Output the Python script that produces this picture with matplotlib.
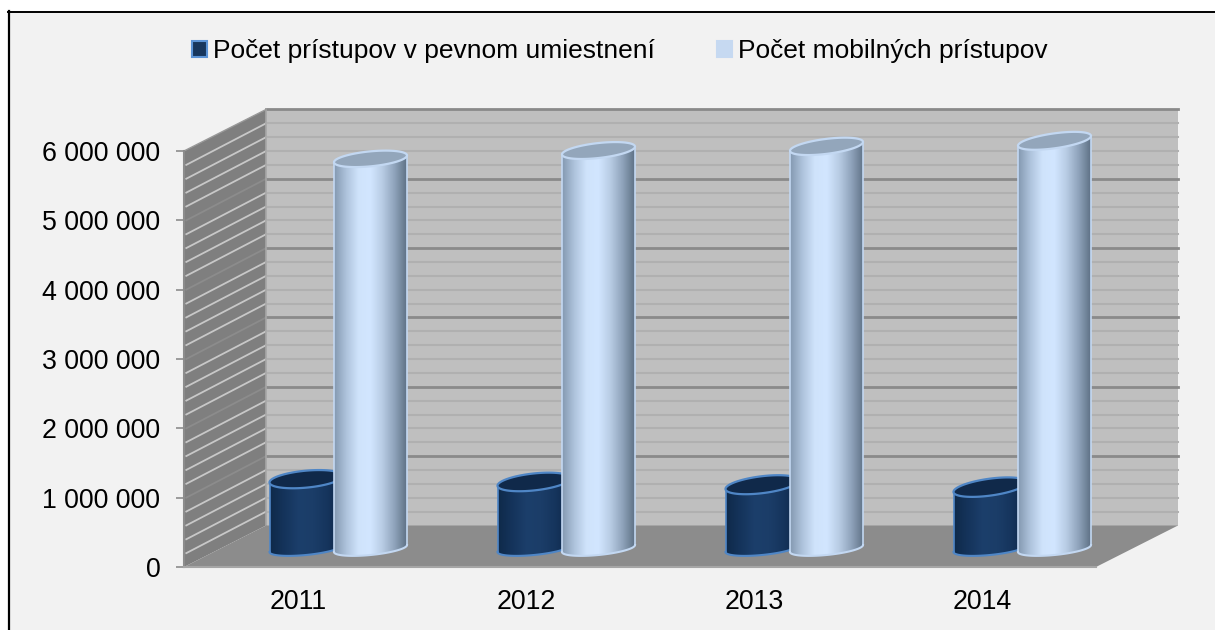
import numpy as np
import matplotlib
matplotlib.use('Agg')
from matplotlib import pyplot as plt
from matplotlib.colors import LinearSegmentedColormap
from matplotlib.lines import Line2D
from matplotlib.patches import Patch, PathPatch, Polygon
from matplotlib.path import Path
from matplotlib.ticker import FuncFormatter

years = ['2011', '2012', '2013', '2014']
fixed_access = [1000000, 960000, 920000, 885000]
mobile_access = [5620000, 5740000, 5800000, 5880000]
series_names = ['Počet prístupov v pevnom umiestnení', 'Počet mobilných prístupov']
y_ticks = [0, 1000000, 2000000, 3000000, 4000000, 5000000, 6000000]

W, H = 1215, 630
L, R, T, B = 184, 1096, 151, 567  # front plane in pixels
PX_X = 4 / (R - L)
PX_Y = 6000000 / (B - T)
DEPTH_X = 82 * PX_X
DEPTH_Y = 41.5 * PX_Y

plt.rcParams['font.family'] = ['Liberation Sans', 'DejaVu Sans']

fig = plt.figure(figsize=(W / 100, H / 100), dpi=100)
fig.patch.set_facecolor('white')
# panel runs off the right and bottom of the picture, only left and top lines show
fig.add_artist(plt.Rectangle((9 / W, 0), 1, 1 - 12 / H, transform=fig.transFigure, fc='#f2f2f2', ec='none', zorder=-1))
fig.add_artist(Line2D([9 / W, 9 / W], [0, 1 - 11 / H], transform=fig.transFigure, color='black', lw=1.6, zorder=-0.5))
fig.add_artist(Line2D([8 / W, 1], [1 - 12 / H, 1 - 12 / H], transform=fig.transFigure, color='black', lw=1.4, zorder=-0.5))

ax = fig.add_axes([L / W, 1 - B / H, (R - L) / W, (B - T) / H])
ax.patch.set_alpha(0)
ax.set_xlim(0, 4)
ax.set_ylim(0, 6000000)
for s in ['top', 'right', 'bottom']:
    ax.spines[s].set_visible(False)
ax.spines['left'].set_color('#8c8c8c')
ax.spines['left'].set_linewidth(1.5)
ax.set_yticks(y_ticks)
ax.yaxis.set_major_formatter(FuncFormatter(lambda v, p: '{:,.0f}'.format(v).replace(',', ' ')))
ax.set_xticks(np.arange(4) + 0.5)
ax.set_xticklabels(years)
ax.tick_params(axis='y', labelsize=19.3, length=6, width=1.2, color='#8c8c8c', pad=11, labelcolor='black')
ax.tick_params(axis='x', labelsize=19.3, length=0, pad=16, labelcolor='black')


def poly(points, **kw):
    ax.add_patch(Polygon(points, closed=True, clip_on=False, **kw))


# walls and floor
poly([(DEPTH_X, DEPTH_Y), (4 + DEPTH_X, DEPTH_Y), (4 + DEPTH_X, 6000000 + DEPTH_Y), (DEPTH_X, 6000000 + DEPTH_Y)],
     fc='#bfbfbf', ec='none', zorder=1)
poly([(0, 0), (DEPTH_X, DEPTH_Y), (DEPTH_X, 6000000 + DEPTH_Y), (0, 6000000)], fc='#7f7f7f', ec='none', zorder=1)
poly([(0, 0), (4, 0), (4 + DEPTH_X, DEPTH_Y), (DEPTH_X, DEPTH_Y)], fc='#8c8c8c', ec='none', zorder=2)
ax.plot([0, 4], [0, 0], color='#a6a6a6', lw=1.5, clip_on=False, zorder=3)

# gridlines on both walls
for v in range(200000, 6000001, 200000):
    major = v % 1000000 == 0
    ax.plot([DEPTH_X, 4 + DEPTH_X], [v + DEPTH_Y, v + DEPTH_Y], clip_on=False, zorder=1.5,
            color='#8a8a8a' if major else '#b0b0b0', lw=2 if major else 1.5)
    if v < 6000000:
        ax.plot([0.01, DEPTH_X], [v, v + DEPTH_Y], clip_on=False, zorder=1.5,
                color='#8c8c8c' if major else '#c8c8c8', lw=1.3)
ax.plot([DEPTH_X, DEPTH_X], [0 + DEPTH_Y, 6000000 + DEPTH_Y], color='#a6a6a6', lw=1.2, clip_on=False, zorder=1.6)
ax.plot([0, DEPTH_X], [6000000, 6000000 + DEPTH_Y], color='#999999', lw=1, clip_on=False, zorder=1.6)

fixed_cmap = LinearSegmentedColormap.from_list('fixed', ['#0f2a4a', '#15345c', '#1c3f6b', '#1b3d68', '#15345c', '#0e2644'])
mobile_cmap = LinearSegmentedColormap.from_list('mobile', ['#8499b1', '#aec3dc', '#cfe3fb', '#d2e6ff', '#b8cce4', '#8fa3bb', '#5f7286'])
fade = np.linspace(0, 1, 200).reshape(1, -1)


def cylinder(cx, value, half_w, cap_h, cmap, cap_color, edge, z):
    base = 18.5 * PX_Y
    rise_top = 3 + cx * 0.5
    rise_bot = 3.5
    u = np.cos(np.linspace(np.pi, 0, 60))
    x = cx + half_w * PX_X * u
    top_y = base + value + rise_top * PX_Y * u
    bot_y = base + rise_bot * PX_Y * u - 6.5 * PX_Y * np.sqrt(1 - u ** 2)
    outline = np.r_[np.c_[x, bot_y], np.c_[x[::-1], top_y[::-1]]]
    im = ax.imshow(fade, extent=[cx - half_w * PX_X, cx + half_w * PX_X, 0, 6000000 + DEPTH_Y],
                   cmap=cmap, aspect='auto', zorder=z)
    clip = PathPatch(Path(outline), transform=ax.transData, fc='none', ec='none')
    ax.add_patch(clip)
    im.set_clip_path(clip)
    im.set_clip_box(fig.bbox)
    ax.plot(outline[:60, 0], outline[:60, 1], color=edge, lw=1.5, clip_on=False, zorder=z + 0.1)
    ax.plot([x[0], x[0]], [bot_y[0], top_y[0]], color=edge, lw=1.2, clip_on=False, zorder=z + 0.1)
    ax.plot([x[-1], x[-1]], [bot_y[-1], top_y[-1]], color=edge, lw=1.2, clip_on=False, zorder=z + 0.1)
    t = np.linspace(0, 2 * np.pi, 120)
    ex = cx + half_w * PX_X * np.cos(t)
    ey = base + value + rise_top * PX_Y * np.cos(t) + cap_h * PX_Y * np.sin(t)
    ax.fill(ex, ey, fc=cap_color, ec=edge, lw=1.6, clip_on=False, zorder=z + 0.2)


for i in range(4):
    c = i + 0.5 + 36 * PX_X
    cylinder(c - 28 * PX_X, fixed_access[i], 36.5, 8.5, fixed_cmap, '#10294a', '#4f86c6', 5)
    cylinder(c + 36.5 * PX_X, mobile_access[i], 36.5, 7.5, mobile_cmap, '#93a6bb', '#c3d8f2', 6)

ax.set_xlim(0, 4)
ax.set_ylim(0, 6000000)

handles = [Patch(fc='#17365d', ec='#5b93d6', lw=1.5), Patch(fc='#c6d9f1', ec='#c6d9f1', lw=1.5)]
fig.legend(handles, series_names, ncol=2, frameon=False, fontsize=19, loc='center left',
           bbox_to_anchor=(192 / W, 1 - 51 / H), borderpad=0, borderaxespad=0, handlelength=0.57,
           handleheight=0.57, handletextpad=0.23, columnspacing=2.35, labelcolor='black')

plt.savefig('out.png', dpi=100, facecolor=fig.get_facecolor())
plt.close('all')
